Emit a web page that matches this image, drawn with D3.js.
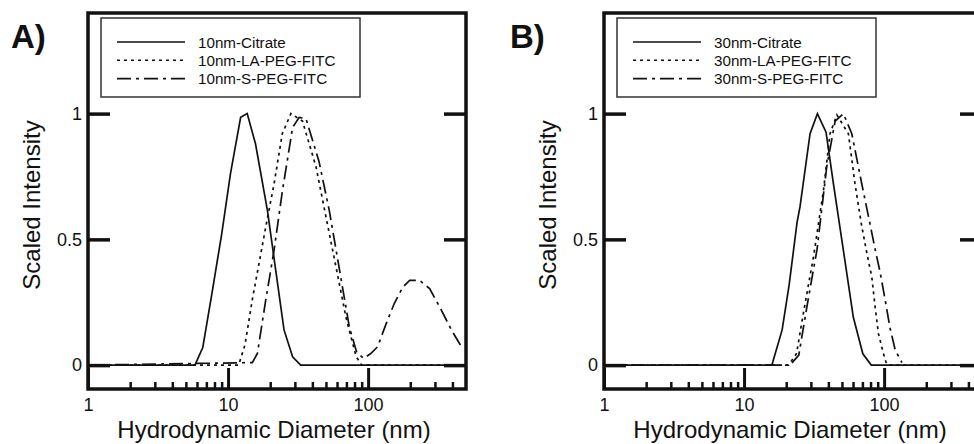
<!DOCTYPE html>
<html>
<head>
<meta charset="utf-8">
<script src="https://cdn.jsdelivr.net/npm/d3@7"></script>
<style>
  body { margin: 0; background: #fff; }
  text { font-family: "Liberation Sans", Arial, Helvetica, sans-serif; fill: #111; }
</style>
</head>
<body>
<script>
// DLS size distributions, two panels (10 nm and 30 nm gold)
const width = 974, height = 444;

const xMajorTicks = [1, 10, 100];
const xMinorTicks = [2, 3, 4, 5, 6, 7, 8, 9, 20, 30, 40, 50, 60, 70, 80, 90, 200, 300, 400];
const yTicks = [0, 0.5, 1];

const namesA = ["10nm-Citrate", "10nm-LA-PEG-FITC", "10nm-S-PEG-FITC"];
const namesB = ["30nm-Citrate", "30nm-LA-PEG-FITC", "30nm-S-PEG-FITC"];

// [diameter nm, scaled intensity]
const citrateA = [[1, 0], [5.8, 0], [6.6, 0.07], [7.7, 0.29], [9.0, 0.52], [10.4, 0.76], [12.3, 0.985],
  [13.7, 1.0], [15.7, 0.88], [19.1, 0.615], [21.9, 0.377], [25.1, 0.14], [28.9, 0.033], [33, 0], [500, 0]];
const laPegA = [[1, 0], [11.9, 0], [13.2, 0.08], [14.9, 0.26], [18.6, 0.55], [21.3, 0.72], [24.4, 0.92],
  [28.1, 1.0], [34, 0.97], [42.4, 0.79], [50, 0.59], [59, 0.39], [69.5, 0.19], [82, 0.035], [90, 0], [500, 0]];
const sPegA = [[1, 0], [14.9, 0.01], [16.2, 0.046], [18.6, 0.26], [21.3, 0.456], [24.4, 0.69], [28.9, 0.945],
  [32.2, 0.985], [36, 0.98], [44.6, 0.81], [52.8, 0.615], [62, 0.39], [73.4, 0.152], [83, 0.05], [93, 0.027],
  [104, 0.045], [117, 0.073], [135, 0.167], [154, 0.246], [177, 0.31], [198, 0.337], [233, 0.337],
  [275, 0.304], [334, 0.218], [394, 0.139], [464, 0.073]];

const citrateB = [[1, 0], [15.8, 0], [18.7, 0.14], [21, 0.32], [23.9, 0.567], [25.1, 0.63], [29.6, 0.92],
  [33.4, 1.0], [38.5, 0.926], [43.5, 0.72], [51.2, 0.456], [60.3, 0.19], [70.5, 0.045], [81, 0], [500, 0]];
const laPegB = [[1, 0], [20.8, 0], [23.7, 0.046], [26.5, 0.205], [31.3, 0.43], [36.9, 0.694], [41.1, 0.92],
  [46, 0.995], [55.6, 0.92], [62, 0.72], [68.5, 0.567], [75, 0.45], [81.7, 0.35], [86.3, 0.23],
  [91, 0.126], [98.9, 0.046], [103, 0.013], [106, 0], [500, 0]];
const sPegB = [[1, 0], [21.3, 0], [24.6, 0.04], [28.2, 0.237], [33.2, 0.46], [38.9, 0.787], [44.7, 0.97],
  [51.2, 1.0], [58.8, 0.92], [69.3, 0.72], [79.4, 0.56], [86.3, 0.46], [93.6, 0.37], [101.7, 0.26],
  [110, 0.15], [120, 0.06], [134, 0.01]];

const dashes = [null, "3,4", "14,5,3,5"];
const frameTop = 13, pw = 378, ph = 376;
const ink = "#111";

const svg = d3.select("body").append("svg")
    .attr("width", width)
    .attr("height", height);

svg.append("rect").attr("width", width).attr("height", height).attr("fill", "#fff");

function drawPanel(id, left, tag, tagX, names, series) {
    const x = d3.scaleLog().domain([1, 500]).range([0, pw]);
    const y = d3.scaleLinear().domain([-0.095, 1.4]).range([ph, 0]);

    svg.append("text")
        .attr("x", tagX).attr("y", 48)
        .attr("font-size", 33).attr("font-weight", "bold")
        .text(tag);

    const g = svg.append("g").attr("transform", `translate(${left},${frameTop})`);

    g.append("clipPath").attr("id", "clip" + id)
      .append("rect").attr("width", pw).attr("height", ph);

    const line = d3.line().x(d => x(d[0])).y(d => y(d[1]));

    g.append("g").attr("clip-path", `url(#clip${id})`)
      .selectAll("path")
      .data(series)
      .enter().append("path")
        .attr("d", line)
        .attr("fill", "none")
        .attr("stroke", ink)
        .attr("stroke-width", 1.7)
        .attr("stroke-dasharray", (d, i) => dashes[i]);

    // bottom axis ticks, drawn inward
    const minor = g.append("g").attr("transform", `translate(0,${ph})`)
        .call(d3.axisBottom(x).tickValues(xMinorTicks).tickSize(-7).tickFormat(""));
    minor.select(".domain").remove();
    minor.selectAll("line").attr("stroke", ink).attr("stroke-width", 2.5);

    const major = g.append("g").attr("transform", `translate(0,${ph})`)
        .call(d3.axisBottom(x).tickValues(xMajorTicks).tickSize(-21).tickPadding(9).tickFormat(d3.format("d")));
    major.select(".domain").remove();
    major.selectAll("line").attr("stroke", ink).attr("stroke-width", 3);
    major.selectAll("text").attr("font-size", 18).attr("font-family", null).attr("fill", ink);

    const yl = g.append("g")
        .call(d3.axisLeft(y).tickValues(yTicks).tickSize(-22).tickPadding(6).tickFormat(d => String(d)));
    yl.select(".domain").remove();
    yl.selectAll("line").attr("stroke", ink).attr("stroke-width", 3.5);
    yl.selectAll("text").attr("font-size", 18).attr("font-family", null).attr("fill", ink);

    const yr = g.append("g").attr("transform", `translate(${pw},0)`)
        .call(d3.axisRight(y).tickValues(yTicks).tickSize(-22).tickFormat(""));
    yr.select(".domain").remove();
    yr.selectAll("line").attr("stroke", ink).attr("stroke-width", 3.5);

    g.append("rect")
        .attr("width", pw).attr("height", ph)
        .attr("fill", "none").attr("stroke", ink).attr("stroke-width", 3.5);

    // legend
    const lg = g.append("g").attr("transform", "translate(13,5)");
    lg.append("rect")
        .attr("width", 259).attr("height", 79)
        .attr("fill", "#fff").attr("stroke", "#333").attr("stroke-width", 1.5);
    const row = lg.selectAll("g.row")
        .data(names)
        .enter().append("g")
        .attr("class", "row")
        .attr("transform", (d, i) => `translate(0,${24 + i * 18.3})`);
    row.append("line")
        .attr("x1", 16).attr("x2", 84)
        .attr("stroke", ink).attr("stroke-width", 1.6)
        .attr("stroke-dasharray", (d, i) => dashes[i]);
    row.append("text")
        .attr("x", 97).attr("y", 5.5)
        .attr("font-size", 15.2)
        .text(d => d);

    // axis titles
    g.append("text")
        .attr("x", pw / 2 - 3).attr("y", 425)
        .attr("text-anchor", "middle")
        .attr("font-size", 24)
        .text("Hydrodynamic Diameter (nm)");

    g.append("text")
        .attr("transform", `translate(${-48},${192}) rotate(-90)`)
        .attr("text-anchor", "middle")
        .attr("font-size", 24)
        .text("Scaled Intensity");
}

drawPanel("A", 88, "A)", 11, namesA, [citrateA, laPegA, sPegA]);
drawPanel("B", 604, "B)", 510, namesB, [citrateB, laPegB, sPegB]);
</script>
</body>
</html>
